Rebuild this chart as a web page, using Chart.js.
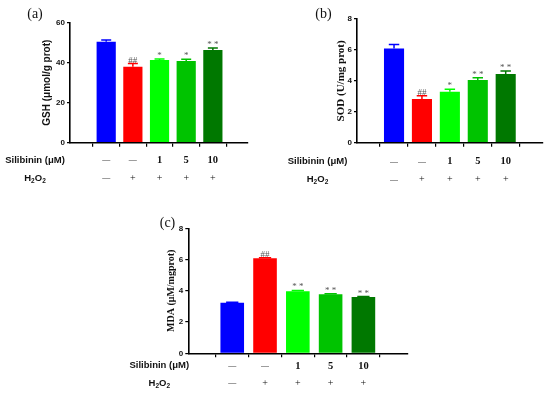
<!DOCTYPE html>
<html>
<head>
<meta charset="utf-8">
<script src="https://cdn.jsdelivr.net/npm/chart.js@4"></script>
<style>
  html, body { margin: 0; padding: 0; background: #fff; }
  #wrap { position: relative; width: 550px; height: 397px; }
  canvas { position: absolute; left: 0; top: 0; }
</style>
</head>
<body>
<div id="wrap">
  <canvas id="chartA" width="550" height="397"></canvas>
  <canvas id="chartB" width="550" height="397"></canvas>
  <canvas id="chartC" width="550" height="397"></canvas>
</div>
<script>
// rows under each panel
const silibinin = ["—", "—", "1", "5", "10"];
const h2o2 = ["—", "+", "+", "+", "+"];
const barColors = ["#0000ff", "#ff0000", "#00ff00", "#00c300", "#007800"];

// (a) GSH
const gshValues = [50.5, 38.0, 41.4, 40.8, 46.3];
const gshErrors = [0.9, 1.6, 0.4, 0.9, 1.1];
const gshMarks = ["", "##", "*", "*", "* *"];

// (b) SOD
const sodValues = [6.1, 2.83, 3.3, 4.05, 4.44];
const sodErrors = [0.25, 0.2, 0.15, 0.15, 0.2];
const sodMarks = ["", "##", "*", "* *", "* *"];

// (c) MDA
const mdaValues = [3.24, 6.08, 3.97, 3.78, 3.6];
const mdaErrors = [0.03, 0.03, 0.05, 0.03, 0.03];
const mdaMarks = ["", "##", "* *", "* *", "* *"];

const SANS = '"Liberation Sans", Arial, sans-serif';
const SERIF = '"Liberation Serif", "Times New Roman", serif';

function drawH2O2(ctx, cx, cy) {
    let parts = [["H", false], ["2", true], ["O", false], ["2", true]];
    let big = "bold 9.5px " + SANS, small = "bold 6.5px " + SANS;
    let total = 0;
    parts.forEach(p => { ctx.font = p[1] ? small : big; total += ctx.measureText(p[0]).width; });
    let x = cx - total / 2;
    ctx.textAlign = "left";
    parts.forEach(p => {
        ctx.font = p[1] ? small : big;
        ctx.fillText(p[0], x, p[1] ? cy + 3 : cy);
        x += ctx.measureText(p[0]).width;
    });
}

function makePanel(id, cfg) {
    let extras = {
        id: "extras_" + id,
        afterDatasetsDraw(chart) {
            let ctx = chart.ctx;
            let y = chart.scales.y;
            let meta = chart.getDatasetMeta(0);
            ctx.save();
            meta.data.forEach((bar, i) => {
                let top = y.getPixelForValue(cfg.values[i] + cfg.errors[i]);
                let half = bar.width * 0.26;
                ctx.strokeStyle = barColors[i];
                ctx.lineWidth = 1.5;
                ctx.beginPath();
                ctx.moveTo(bar.x, bar.y);
                ctx.lineTo(bar.x, top);
                ctx.moveTo(bar.x - half, top);
                ctx.lineTo(bar.x + half, top);
                ctx.stroke();

                ctx.fillStyle = "#555";
                ctx.font = "9px " + SERIF;
                ctx.textAlign = "center";
                ctx.textBaseline = "alphabetic";
                ctx.fillText(cfg.marks[i], bar.x, top - 1);
            });
            ctx.restore();
        },
        afterDraw(chart) {
            let ctx = chart.ctx;
            let x = chart.scales.x;
            let area = chart.chartArea;
            let r1 = area.bottom + cfg.rowY[0], r2 = area.bottom + cfg.rowY[1];
            ctx.save();
            ctx.fillStyle = "#111";
            ctx.textBaseline = "middle";

            // row labels
            let lx = area.left + cfg.labelDx;
            ctx.font = "bold 9.5px " + SANS;
            ctx.textAlign = "center";
            ctx.fillText("Silibinin (μM)", lx, r1);
            drawH2O2(ctx, lx, r2);

            // row values
            ctx.textAlign = "center";
            for (let i = 0; i < silibinin.length; i++) {
                let px = x.getPixelForValue(i);
                [[silibinin[i], r1], [h2o2[i], r2]].forEach(c => {
                    if (c[0] === "—") ctx.font = "8px " + SERIF;
                    else if (c[0] === "+") ctx.font = "10px " + SERIF;
                    else ctx.font = "bold 10.5px " + SERIF;
                    ctx.fillText(c[0], px, c[1]);
                });
            }

            // panel letter
            ctx.font = "14px " + SERIF;
            ctx.fillText(cfg.letter, cfg.letterPos[0], cfg.letterPos[1]);
            ctx.restore();
        }
    };

    return new Chart(document.getElementById(id), {
        type: "bar",
        data: {
            datasets: [{
                data: cfg.values.map((v, i) => ({ x: i, y: v })),
                backgroundColor: barColors,
                borderWidth: 0,
                barPercentage: 0.72,
                categoryPercentage: 1
            }]
        },
        options: {
            responsive: false,
            animation: false,
            layout: { padding: cfg.padding },
            plugins: { legend: { display: false }, tooltip: { enabled: false } },
            scales: {
                x: {
                    type: "linear",
                    min: cfg.xRange[0],
                    max: cfg.xRange[1],
                    afterBuildTicks: s => { s.ticks = silibinin.map((_, i) => ({ value: i })); },
                    afterFit: s => { s.height = 6; },
                    ticks: { display: false },
                    grid: { drawOnChartArea: false, drawTicks: true, tickLength: 4, color: "#000", lineWidth: 1.2 },
                    border: { color: "#000", width: 1.6 }
                },
                y: {
                    min: 0,
                    max: cfg.yMax,
                    afterFit: s => { s.width = cfg.yWidth; },
                    ticks: {
                        stepSize: cfg.yStep,
                        color: "#111",
                        padding: 2,
                        font: { family: SANS, size: 8, weight: "bold" }
                    },
                    grid: { drawOnChartArea: false, drawTicks: true, tickLength: 3, color: "#000", lineWidth: 1.2 },
                    border: { color: "#000", width: 1.6 },
                    title: {
                        display: true,
                        text: cfg.title,
                        color: "#111",
                        padding: 0,
                        font: cfg.titleFont
                    }
                }
            }
        },
        plugins: [extras]
    });
}

makePanel("chartA", {
    values: gshValues, errors: gshErrors, marks: gshMarks,
    yMax: 60, yStep: 20, title: "GSH (μmol/g prot)",
    titleFont: { family: SANS, size: 10, weight: "bold", lineHeight: 1.2 },
    padding: { left: 41.5, top: 22.7, right: 302, bottom: 248.3 },
    yWidth: 28.5, xRange: [-0.69, 4.65],
    rowY: [17.5, 35.5], labelDx: -35,
    letter: "(a)", letterPos: [35, 14]
});

makePanel("chartB", {
    values: sodValues, errors: sodErrors, marks: sodMarks,
    yMax: 8, yStep: 2, title: "SOD (U/mg prot)",
    titleFont: { family: SERIF, size: 11, weight: "bold", lineHeight: 1.2 },
    padding: { left: 335, top: 19, right: 7, bottom: 248.3 },
    yWidth: 22, xRange: [-0.66, 4.67],
    rowY: [19, 37], labelDx: -39.5,
    letter: "(b)", letterPos: [323.5, 14]
});

makePanel("chartC", {
    values: mdaValues, errors: mdaErrors, marks: mdaMarks,
    yMax: 8, yStep: 2, title: "MDA (μM/mgprot)",
    titleFont: { family: SERIF, size: 10, weight: "bold", lineHeight: 1.2 },
    padding: { left: 165, top: 228.3, right: 142, bottom: 37.7 },
    yWidth: 23.3, xRange: [-0.67, 4.69],
    rowY: [12.5, 30], labelDx: -29,
    letter: "(c)", letterPos: [167.5, 223]
});
</script>
</body>
</html>
